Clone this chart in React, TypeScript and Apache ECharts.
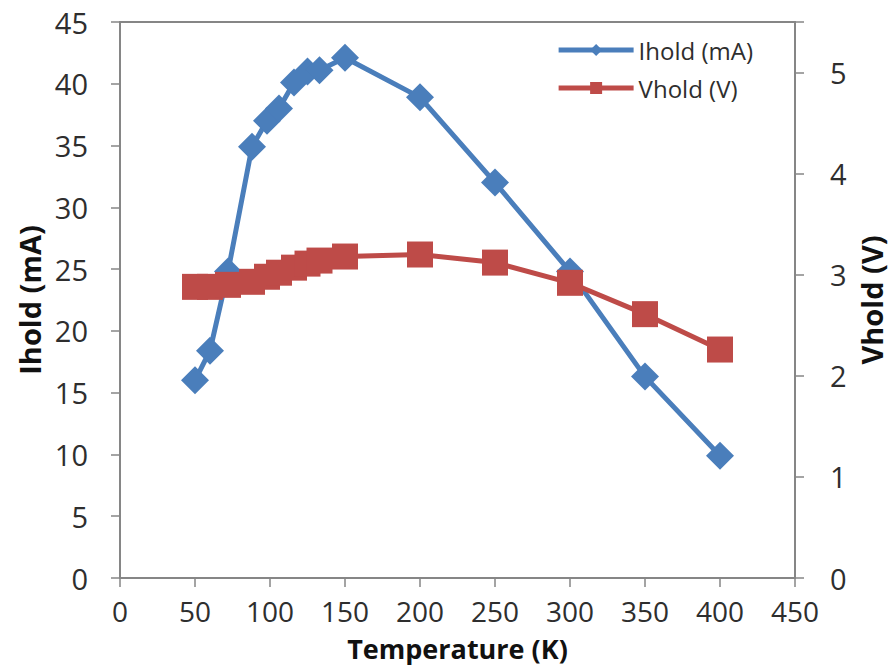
import React, { useEffect, useRef } from "react";
import * as echarts from "echarts";

const temperature = [50, 60, 72, 88, 98, 106, 116, 125, 133, 150, 200, 250, 300, 350, 400];
const iholdValues = [16.0, 18.4, 24.8, 34.9, 37.0, 38.0, 40.1, 41.0, 41.1, 42.1, 38.9, 32.0, 24.8, 16.3, 9.9];
const vholdValues = [2.88, 2.88, 2.9, 2.93, 2.98, 3.02, 3.07, 3.11, 3.14, 3.18, 3.2, 3.12, 2.92, 2.61, 2.26];

const xTitle = "Temperature (K)";
const leftTitle = "Ihold (mA)";
const rightTitle = "Vhold (V)";
const seriesNames = ["Ihold (mA)", "Vhold (V)"];

export default function App() {
  const ref = useRef<HTMLDivElement>(null);
  useEffect(() => {
    if (!ref.current) return;
    const chart = echarts.init(ref.current, null, { renderer: "svg" });
    const axisColor = "#868686";
    const labelColor = "#2e2e2e";
    const font = "'Open Sans', 'Liberation Sans', sans-serif";
    chart.setOption({
      animation: false,
      backgroundColor: "#ffffff",
      textStyle: { fontFamily: font },
      grid: {
        left: 120,
        right: 98,
        top: 22,
        bottom: 90,
        containLabel: false,
        outerBoundsMode: "none",
        show: true,
        borderColor: axisColor,
        borderWidth: 2,
        backgroundColor: "transparent",
      },
      legend: {
        right: 135,
        top: 33,
        orient: "vertical",
        itemWidth: 75,
        itemHeight: 15,
        itemGap: 14,
        lineStyle: { width: 5 },
        textStyle: { fontSize: 24, color: labelColor, fontFamily: font },
        data: seriesNames,
      },
      xAxis: {
        type: "value",
        min: 0,
        max: 450,
        interval: 50,
        name: xTitle,
        nameLocation: "middle",
        nameGap: 55,
        nameTextStyle: { fontSize: 27, fontWeight: "bold", color: "#111", fontFamily: font, lineHeight: 30 },
        axisLine: { show: true, onZero: false, lineStyle: { color: axisColor, width: 2 } },
        axisTick: { show: true, length: 9, lineStyle: { color: axisColor, width: 1.5 } },
        axisLabel: { fontSize: 28, lineHeight: 30, color: labelColor, margin: 18, fontFamily: font },
        splitLine: { show: false },
      },
      yAxis: [
        {
          type: "value",
          min: 0,
          max: 45,
          interval: 5,
          name: leftTitle,
          nameLocation: "middle",
          nameRotate: 90,
          nameGap: 66,
          nameTextStyle: { fontSize: 29, fontWeight: "bold", color: "#111", fontFamily: font },
          axisLine: { show: true, onZero: false, lineStyle: { color: axisColor, width: 2 } },
          axisTick: { show: true, length: 9, lineStyle: { color: axisColor, width: 1.5 } },
          axisLabel: { fontSize: 29, color: labelColor, margin: 32, fontFamily: font },
          splitLine: { show: false },
        },
        {
          type: "value",
          min: 0,
          max: 5.5,
          interval: 1,
          position: "right",
          name: rightTitle,
          nameLocation: "middle",
          nameRotate: 90,
          nameGap: 62,
          nameTextStyle: { fontSize: 29, fontWeight: "bold", color: "#111", fontFamily: font },
          axisLine: { show: true, onZero: false, lineStyle: { color: axisColor, width: 2 } },
          axisTick: { show: true, length: 9, lineStyle: { color: axisColor, width: 1.5 } },
          axisLabel: {
            fontSize: 29,
            color: labelColor,
            margin: 35,
            fontFamily: font,
            formatter: (v: number) => (Number.isInteger(v) ? String(v) : ""),
          },
          splitLine: { show: false },
        },
      ],
      series: [
        {
          name: seriesNames[0],
          type: "line",
          yAxisIndex: 0,
          data: temperature.map((t, i) => [t, iholdValues[i]]),
          symbol: "diamond",
          symbolSize: 28,
          lineStyle: { color: "#4a7ebb", width: 5 },
          itemStyle: { color: "#4a7ebb" },
          z: 2,
        },
        {
          name: seriesNames[1],
          type: "line",
          yAxisIndex: 1,
          data: temperature.map((t, i) => [t, vholdValues[i]]),
          symbol: "rect",
          symbolSize: 26,
          lineStyle: { color: "#be4b48", width: 5 },
          itemStyle: { color: "#be4b48" },
          z: 3,
        },
      ],
    });
    return () => chart.dispose();
  }, []);
  return <div ref={ref} style={{ width: 893, height: 668, position: "absolute", left: 0, top: 0 }} />;
}
